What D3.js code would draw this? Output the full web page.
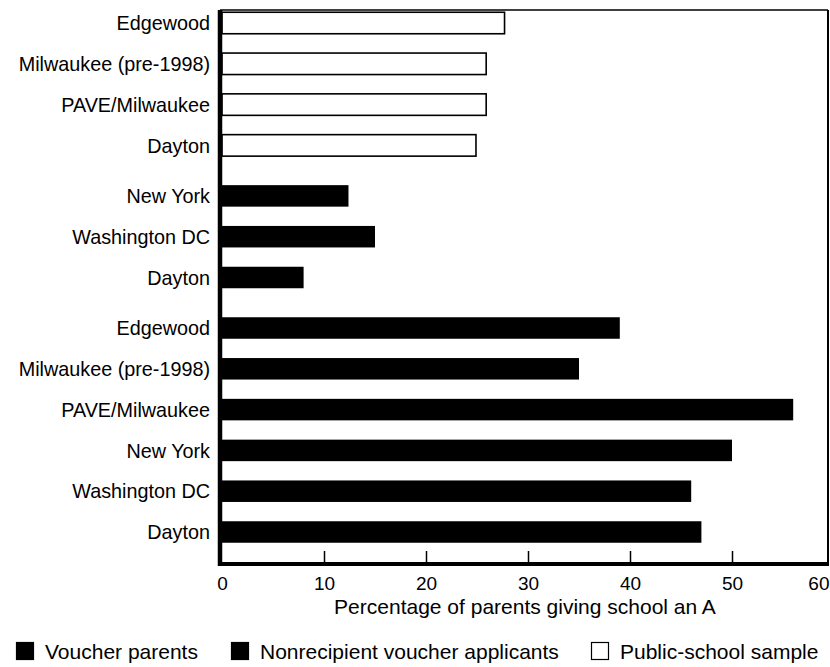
<!DOCTYPE html>
<html>
<head>
<meta charset="utf-8">
<script src="https://cdn.jsdelivr.net/npm/d3@7"></script>
<style>
  html, body { margin: 0; padding: 0; background: #fff; }
  svg { display: block; font-family: "Liberation Sans", Arial, Helvetica, sans-serif; }
</style>
</head>
<body>
<svg id="chart" width="830" height="667"></svg>
<script>
// ---- data ----
const publicCats = ["Edgewood", "Milwaukee (pre-1998)", "PAVE/Milwaukee", "Dayton"];
const publicVals = [27.7, 25.9, 25.9, 24.9];
const nonrecCats = ["New York", "Washington DC", "Dayton"];
const nonrecVals = [12.4, 15.0, 8.0];
const voucherCats = ["Edgewood", "Milwaukee (pre-1998)", "PAVE/Milwaukee", "New York", "Washington DC", "Dayton"];
const voucherVals = [39, 35, 56, 50, 46, 47];
const xTicks = [0, 10, 20, 30, 40, 50, 60];
const seriesNames = ["Voucher parents", "Nonrecipient voucher applicants", "Public-school sample"];
const xTitle = "Percentage of parents giving school an A";

// ---- build rows ----
const groups = [
  { key: "public", cats: publicCats, vals: publicVals, fill: "#fff" },
  { key: "nonrec", cats: nonrecCats, vals: nonrecVals, fill: "#000" },
  { key: "voucher", cats: voucherCats, vals: voucherVals, fill: "#000" }
];
const rows = [];
groups.forEach((g, gi) => g.cats.forEach((c, i) => rows.push({
  id: g.key + "-" + i, cat: c, val: g.vals[i], group: gi, fill: g.fill
})));

const svg = d3.select("#chart");
const labelSize = 19.8, tickSize = 19, bigSize = 21;

const left = 222, frameRight = 828, frameTop = 10, frameBottom = 564;
const x = d3.scaleLinear().domain([0, 60]).range([left, 834]);

const step = 40.8, gap = 9.7, bw = 21.5;
const r0 = 23 - step / 2;
const pi = 1 - bw / step;
const y = d3.scaleBand()
  .domain(rows.map(d => d.id))
  .range([r0, r0 + rows.length * step])
  .paddingInner(pi)
  .paddingOuter(pi / 2);
const yPos = d => y(d.id) + d.group * gap;

// bars
svg.append("g").selectAll("rect")
  .data(rows)
  .join("rect")
  .attr("x", x(0))
  .attr("y", d => yPos(d))
  .attr("width", d => x(d.val) - x(0))
  .attr("height", y.bandwidth())
  .attr("fill", d => d.fill)
  .attr("stroke", "#000")
  .attr("stroke-width", d => d.fill === "#000" ? 0 : 1.6);

// category labels
svg.append("g").selectAll("text")
  .data(rows)
  .join("text")
  .attr("x", 210)
  .attr("y", d => yPos(d) + y.bandwidth() / 2)
  .attr("dy", "0.36em")
  .attr("text-anchor", "end")
  .attr("font-size", labelSize)
  .attr("fill", "#000")
  .text(d => d.cat);

// frame
const frame = svg.append("g").attr("fill", "none").attr("stroke", "#000");
frame.append("line").attr("x1", left - 2).attr("x2", frameRight).attr("y1", frameTop).attr("y2", frameTop).attr("stroke-width", 1.3);
frame.append("line").attr("x1", frameRight).attr("x2", frameRight).attr("y1", frameTop).attr("y2", frameBottom + 2).attr("stroke-width", 2);
frame.append("line").attr("x1", left - 2).attr("x2", left - 2).attr("y1", frameTop).attr("y2", frameBottom + 2).attr("stroke-width", 4.5);
frame.append("line").attr("x1", left - 4).attr("x2", frameRight + 1).attr("y1", frameBottom).attr("y2", frameBottom).attr("stroke-width", 4);

// x axis
const ax = svg.append("g")
  .attr("transform", `translate(0,${frameBottom})`)
  .call(d3.axisBottom(x).tickValues(xTicks).tickFormat(d3.format("d")).tickSizeInner(-13).tickSizeOuter(0).tickPadding(13));
ax.attr("font-family", null);
ax.select(".domain").remove();
ax.selectAll(".tick line").attr("stroke", "#000").attr("stroke-width", 1.5);
ax.selectAll(".tick text").attr("font-size", tickSize).attr("fill", "#000");
ax.selectAll(".tick").filter(d => d === 0).select("line").remove();
ax.selectAll(".tick").filter(d => x(d) > frameRight).each(function () {
  d3.select(this).select("line").remove();
  d3.select(this).select("text").attr("text-anchor", "end").attr("x", -5);
});

// x title
svg.append("text")
  .attr("x", (left + frameRight) / 2)
  .attr("y", 614)
  .attr("text-anchor", "middle")
  .attr("font-size", bigSize)
  .text(xTitle);

// legend
const legendFills = ["#000", "#000", "#fff"];
const legendX = [16, 231, 591];
const lg = svg.append("g").selectAll("g")
  .data(seriesNames)
  .join("g")
  .attr("transform", (d, i) => `translate(${legendX[i]},642)`);
lg.append("rect")
  .attr("x", 0.5).attr("y", 0.5)
  .attr("width", 17).attr("height", 17)
  .attr("fill", (d, i) => legendFills[i])
  .attr("stroke", "#000").attr("stroke-width", 1.2);
lg.append("text")
  .attr("x", 29)
  .attr("y", 9)
  .attr("dy", "0.36em")
  .attr("font-size", bigSize)
  .text(d => d);
</script>
</body>
</html>
